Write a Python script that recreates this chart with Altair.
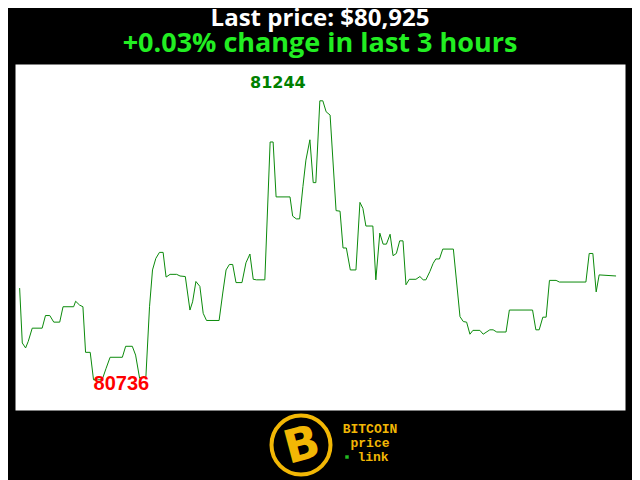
import altair as alt
import pandas as pd

# --- data (minutes since start of the 3-hour window, price in USD) ---
minutes = [0, 0.8, 1.8, 2.6, 3.8, 6.8, 7.8, 9.1, 10.3, 12.1,
           13.1, 16.3, 16.9, 18.1, 19.1, 19.9, 21.3, 22.3, 24.9, 26.1,
           27.3, 31.0, 32.0, 34.0, 35.0, 36.2, 38.1, 39.2, 40.1, 41.1,
           42.2, 43.3, 44.2, 45.4, 47.4, 48.4, 50.0, 51.4, 52.2, 53.2,
           54.4, 55.4, 56.4, 60.2, 61.3, 62.3, 63.3, 64.3, 65.3, 67.1,
           68.3, 69.5, 70.5, 71.5, 74.0, 75.6, 76.5, 77.4, 81.6, 82.4,
           83.5, 84.5, 85.5, 86.4, 87.6, 88.6, 89.4, 90.6, 91.5, 92.5,
           93.7, 95.5, 96.7, 97.6, 98.6, 99.8, 101.5, 102.7, 103.6, 104.5,
           106.6, 107.5, 108.7, 109.7, 110.7, 111.8, 112.7, 113.7, 114.7, 115.7,
           116.6, 117.6, 119.6, 120.8, 121.8, 122.6, 123.8, 124.8, 125.6, 126.7,
           127.7, 130.9, 132.9, 133.9, 134.9, 135.9, 136.8, 138.9, 139.9, 141.9,
           142.9, 144.0, 146.8, 147.8, 154.8, 155.8, 156.8, 157.9, 158.9, 159.9,
           161.9, 162.9, 170.9, 171.9, 173.0, 174.0, 174.9, 180.0]

prices = [80903, 80803, 80794, 80806, 80830, 80830, 80853, 80853, 80841, 80841,
          80869, 80869, 80879, 80872, 80869, 80786, 80786, 80736, 80736, 80757,
          80777, 80777, 80797, 80797, 80781, 80739, 80741, 80869, 80936, 80957,
          80968, 80968, 80923, 80928, 80928, 80925, 80924, 80863, 80878, 80915,
          80906, 80857, 80844, 80844, 80894, 80936, 80946, 80946, 80913, 80913,
          80949, 80965, 80919, 80918, 80918, 81169, 81169, 81069, 81069, 81034,
          81029, 81029, 81088, 81136, 81173, 81095, 81095, 81244, 81244, 81224,
          81218, 81044, 81043, 80976, 80976, 80936, 80936, 81059, 81048, 81016,
          81016, 80918, 81003, 80983, 80983, 81001, 80962, 80966, 80989, 80989,
          80909, 80919, 80919, 80924, 80918, 80918, 80933, 80948, 80956, 80956,
          80974, 80974, 80851, 80842, 80841, 80819, 80826, 80826, 80819, 80827,
          80827, 80823, 80823, 80863, 80863, 80827, 80827, 80850, 80850, 80917,
          80917, 80914, 80914, 80966, 80966, 80896, 80927, 80925]

title_text = "Last price: $80,925"
subtitle_text = "+0.03% change in last 3 hours"
logo_lines = ["BITCOIN", "price", "link"]

df = pd.DataFrame({"minute": minutes, "price": prices})
imax = prices.index(max(prices))
imin = prices.index(min(prices))
hi = pd.DataFrame({"minute": [minutes[imax]], "price": [prices[imax]], "label": [str(prices[imax])]})
lo = pd.DataFrame({"minute": [minutes[imin]], "price": [prices[imin]], "label": [str(prices[imin])]})

x = alt.X("minute:Q", scale=alt.Scale(domain=[-1.4, 182.7], nice=False, zero=False), axis=None)
y = alt.Y("price:Q", scale=alt.Scale(domain=[80681, 81311], nice=False, zero=False), axis=None)

line = alt.Chart(df).mark_line(color="#0b8a0b", strokeWidth=1).encode(x=x, y=y)

hi_text = alt.Chart(hi).mark_text(
    font="DejaVu Sans", fontWeight="bold", fontSize=16, color="#008000",
    align="center", baseline="middle", dx=-42, dy=-18
).encode(x=x, y=y, text="label:N")

lo_text = alt.Chart(lo).mark_text(
    font="Liberation Sans", fontWeight="bold", fontSize=20, color="#ff0000",
    align="left", baseline="middle", dx=0, dy=4
).encode(x=x, y=y, text="label:N")

one = pd.DataFrame({"k": [0]})

title = alt.Chart(one).mark_text(
    text=title_text, font="Open Sans", fontWeight="bold", fontSize=24,
    color="white", align="center", baseline="alphabetic"
).encode(x=alt.value(305), y=alt.value(-38))

subtitle = alt.Chart(one).mark_text(
    text=subtitle_text, font="Open Sans", fontWeight="bold", fontSize=27,
    color="#22ee22", align="center", baseline="alphabetic"
).encode(x=alt.value(305), y=alt.value(-12))

# logo
logo_color = "#f2b705"
ring = alt.Chart(one).mark_point(
    shape="circle", size=3481, filled=False, stroke=logo_color, strokeWidth=4, opacity=1
).encode(x=alt.value(286), y=alt.value(381))

bmark = alt.Chart(one).mark_text(
    text="B", font="DejaVu Sans", fontWeight="bold", fontSize=46, color=logo_color,
    align="center", baseline="middle", angle=345
).encode(x=alt.value(287), y=alt.value(382))

logo_y = [365, 379, 393]
logo_x = [355, 355, 358]
logo_layers = []
for txt, lx, ly in zip(logo_lines, logo_x, logo_y):
    logo_layers.append(
        alt.Chart(one).mark_text(
            text=txt, font="Liberation Mono", fontWeight="bold", fontSize=13,
            color=logo_color, align="center", baseline="middle"
        ).encode(x=alt.value(lx), y=alt.value(ly))
    )

dot = alt.Chart(one).mark_point(
    shape="square", size=12, filled=True, color="#22bb22", opacity=1
).encode(x=alt.value(332), y=alt.value(393))

chart = alt.layer(line, hi_text, lo_text, title, subtitle, ring, bmark, *logo_layers, dot).properties(
    width=610, height=346,
    autosize=alt.AutoSizeParams(type="none"),
    padding={"left": 7, "top": 56, "right": 7, "bottom": 70},
    background="black",
).configure_view(fill="white", stroke="transparent")

chart.save("out.html", embed_options={"renderer": "svg", "actions": False})
